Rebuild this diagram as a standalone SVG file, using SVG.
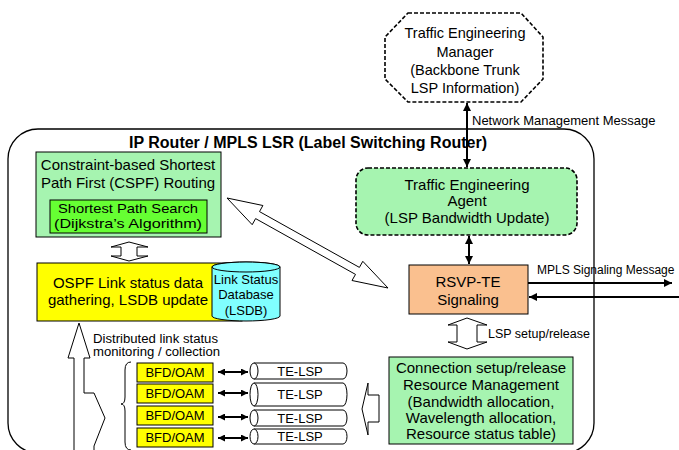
<svg xmlns="http://www.w3.org/2000/svg" width="679" height="450" viewBox="0 0 679 450">
<defs>
<marker id="ah" viewBox="0 0 10 10" refX="10" refY="5" markerWidth="9" markerHeight="8" orient="auto-start-reverse" markerUnits="userSpaceOnUse">
<path d="M0,0 L10,5 L0,10 z" fill="#000"/>
</marker>
<marker id="ahs" viewBox="0 0 10 10" refX="10" refY="5" markerWidth="8" markerHeight="7" orient="auto-start-reverse" markerUnits="userSpaceOnUse">
<path d="M0,0 L10,5 L0,10 z" fill="#000"/>
</marker>
</defs>
<style>
text{font-family:"Liberation Sans",Arial,sans-serif;fill:#000;text-anchor:middle}
.t15{font-size:15px}
.t14{font-size:14.5px}
.t13{font-size:13px}
.lg{fill:#a6f4b0;stroke:#000;stroke-width:1}
.ye{fill:#ffff00;stroke:#000;stroke-width:1}
.hol{fill:#fff;stroke:#000;stroke-width:1}
.ln{stroke:#000;stroke-width:2;fill:none}
.dash{stroke-dasharray:4,2;stroke-width:1.6}
</style>
<rect width="679" height="450" fill="#fff"/>

<g id="router">
<rect x="8" y="129" width="586" height="324" rx="30" fill="none" stroke="#000" stroke-width="1.3"/>
<text x="308" y="148" style="font-size:16px;font-weight:bold">IP Router / MPLS LSR (Label Switching Router)</text>
</g>

<g id="te-manager">
<polygon points="408,13 521,13 543,37 543,79 521,102 408,102 385,79 385,37" fill="#fff" stroke="#000" class="dash"/>
<text class="t14" x="465" y="38">Traffic Engineering</text>
<text class="t14" x="465" y="57">Manager</text>
<text class="t14" x="465" y="75">(Backbone Trunk</text>
<text class="t14" x="465" y="93">LSP Information)</text>
</g>

<g id="cspf">
<rect class="lg" x="36" y="152" width="185" height="85"/>
<text class="t15" x="128" y="170">Constraint-based Shortest</text>
<text class="t15" x="128" y="188">Path First (CSPF) Routing</text>
<rect x="50" y="200" width="157" height="33" fill="#66ff33" stroke="#000"/>
<text x="128" y="213" style="font-size:13.4px" textLength="140" lengthAdjust="spacingAndGlyphs">Shortest Path Search</text>
<text x="128" y="228" style="font-size:13.4px" textLength="148" lengthAdjust="spacingAndGlyphs">(Dijkstra’s Algorithm)</text>
</g>

<g id="te-agent">
<rect x="356" y="168" width="221" height="67" rx="12" fill="#a6f4b0" stroke="#000" class="dash"/>
<text class="t15" x="467" y="190">Traffic Engineering</text>
<text class="t15" x="467" y="206">Agent</text>
<text class="t15" x="467" y="223">(LSP Bandwidth Update)</text>
</g>

<g id="ospf">
<rect class="ye" x="37" y="263" width="205" height="58"/>
<text class="t15" x="128" y="288">OSPF Link status data</text>
<text class="t15" x="128" y="305">gathering, LSDB update</text>
</g>

<g id="lsdb">
<path d="M212,267 A34,5 0 0 1 280,267 L280,316 A34,5 0 0 1 212,316 Z" fill="#80ffff" stroke="#000"/>
<ellipse cx="246" cy="267" rx="34" ry="5" fill="#80ffff" stroke="#000"/>
<text class="t13" x="246" y="284">Link Status</text>
<text class="t13" x="246" y="299">Database</text>
<text class="t13" x="246" y="315">(LSDB)</text>
</g>

<g id="rsvp">
<rect x="409" y="265" width="119" height="49" fill="#fac08f" stroke="#000"/>
<text class="t15" x="468" y="287">RSVP-TE</text>
<text class="t15" x="468" y="305">Signaling</text>
</g>

<g id="connection">
<rect class="lg" x="389" y="357" width="184" height="87"/>
<text class="t15" x="481" y="373">Connection setup/release</text>
<text class="t15" x="481" y="390">Resource Management</text>
<text class="t15" x="481" y="407">(Bandwidth allocation,</text>
<text class="t15" x="481" y="423">Wavelength allocation,</text>
<text class="t15" x="481" y="439">Resource status table)</text>
</g>

<g id="bfd">
<rect class="ye" x="137" y="363" width="76" height="19"/>
<rect class="ye" x="137" y="384" width="76" height="19"/>
<rect class="ye" x="137" y="406" width="76" height="19"/>
<rect class="ye" x="137" y="428" width="76" height="19"/>
<text class="t13" x="175" y="377">BFD/OAM</text>
<text class="t13" x="175" y="398">BFD/OAM</text>
<text class="t13" x="175" y="420">BFD/OAM</text>
<text class="t13" x="175" y="442">BFD/OAM</text>
</g>

<g id="te-lsp" fill="#fff" stroke="#000" stroke-width="1">
<path d="M254,363 L343,363 A4,8 0 0 1 343,379 L254,379"/>
<ellipse cx="254" cy="371" rx="4" ry="8"/>
<path d="M254,383 L343,383 A4,11.5 0 0 1 343,406 L254,406"/>
<ellipse cx="254" cy="394.5" rx="4" ry="11.5"/>
<path d="M254,410 L343,410 A4,8 0 0 1 343,426 L254,426"/>
<ellipse cx="254" cy="418" rx="4" ry="8"/>
<path d="M254,429 L343,429 A4,7.5 0 0 1 343,444 L254,444"/>
<ellipse cx="254" cy="436.5" rx="4" ry="7.5"/>
</g>
<g id="te-lsp-labels">
<text class="t13" x="300" y="376">TE-LSP</text>
<text class="t13" x="300" y="399">TE-LSP</text>
<text class="t13" x="300" y="423">TE-LSP</text>
<text class="t13" x="300" y="441">TE-LSP</text>
</g>

<g id="connectors">
<line class="ln" x1="467" y1="103" x2="467" y2="167" marker-start="url(#ah)" marker-end="url(#ah)"/>
<text x="472" y="125" style="font-size:13px;text-anchor:start">Network Management Message</text>
<line class="ln" x1="469" y1="236" x2="469" y2="264" marker-start="url(#ah)" marker-end="url(#ah)"/>
<line class="ln" x1="528" y1="283" x2="672" y2="283" marker-end="url(#ah)"/>
<line class="ln" x1="679" y1="297" x2="529" y2="297" marker-end="url(#ah)"/>
<text x="537" y="274" style="font-size:12px;text-anchor:start">MPLS Signaling Message</text>
<polygon class="hol" points="227,198 262.9,205.5 259.5,211.6 359.4,267.4 362.8,261.3 388,288 352,280.5 355.5,274.4 255.6,218.6 252.2,224.7"/>
<polygon class="hol" points="129,242 148,247 137,247 137,256 148,256 129,261 111,256 121,256 121,247 111,247"/>
<polygon class="hol" points="467,318 487,325 477,325 477,342 487,342 467,349 448,342 457,342 457,325 448,325"/>
<text x="488" y="338" style="font-size:12.5px;text-anchor:start">LSP setup/release</text>
<polygon class="hol" points="379,395 368,395 368,383 362,409 368,435 368,422 379,422"/>
<polygon class="hol" points="74,452 74,358 68,358 79,323 90,358 84,358 84,393 94,393 105,418 94,446 94,452"/>
<text x="93" y="342.5" style="font-size:12px;text-anchor:start" textLength="125" lengthAdjust="spacingAndGlyphs">Distributed link status</text>
<text x="93" y="356" style="font-size:12px;text-anchor:start" textLength="127" lengthAdjust="spacingAndGlyphs">monitoring / collection</text>
<path d="M131,362 Q125,362 125,370 L125,397 Q125,404 121,404 Q125,404 125,411 L125,442 Q125,450 131,450" fill="none" stroke="#000" stroke-width="1"/>
<line x1="218" y1="372" x2="248" y2="372" stroke="#000" stroke-width="2" marker-start="url(#ahs)" marker-end="url(#ahs)"/>
<line x1="218" y1="393" x2="248" y2="393" stroke="#000" stroke-width="2" marker-start="url(#ahs)" marker-end="url(#ahs)"/>
<line x1="218" y1="417" x2="248" y2="417" stroke="#000" stroke-width="2" marker-start="url(#ahs)" marker-end="url(#ahs)"/>
<line x1="218" y1="438" x2="248" y2="438" stroke="#000" stroke-width="2" marker-start="url(#ahs)" marker-end="url(#ahs)"/>
</g>
</svg>
